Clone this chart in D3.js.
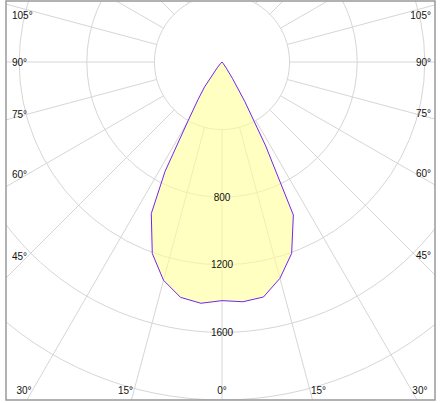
<!DOCTYPE html>
<html>
<head>
<meta charset="utf-8">
<script src="https://cdn.jsdelivr.net/npm/d3@7"></script>
<style>
  body { margin: 0; background: #fff; }
  text { font-family: Arial, "Liberation Sans", sans-serif; font-size: 10px; fill: #111; }
</style>
</head>
<body>
<div id="chart"></div>
<script>
// sampled gamma angles (degrees from nadir)
const gammaAngles = [0, 5, 10, 15, 20, 25, 27.5, 30, 32.5, 35, 40, 45, 50, 60, 70, 80, 90];
// luminous intensity (cd) on each half-plane
const leftValues  = [1412, 1433, 1414, 1337, 1206, 990, 730, 400, 265, 180, 40, 10, 0, 0, 0, 0, 0];
const rightValues = [1412, 1424, 1412, 1325, 1205, 999, 560, 270, 115, 45, 10, 0, 0, 0, 0, 0, 0];
// grid rings and which get a label
const ringValues = [400, 800, 1200, 1600, 2000, 2400];
const ringLabels = [800, 1200, 1600];
// spokes every 15 degrees, labelled up to 105
const spokeAngles = d3.range(0, 181, 15);
const labelAngles = [0, 15, 30, 45, 60, 75, 90, 105];

const width = 444, height = 403;
const frame = { x: 6, y: 1, w: 429, h: 399 };
const cx = 222, cy = 62;
const rad = d => d * Math.PI / 180;

const r = d3.scaleLinear().domain([0, 2000]).range([0, 338]);

const svg = d3.select('#chart').append('svg')
  .attr('width', width)
  .attr('height', height);

svg.append('clipPath').attr('id', 'clip')
  .append('rect')
  .attr('x', frame.x).attr('y', frame.y)
  .attr('width', frame.w).attr('height', frame.h);

const g = svg.append('g').attr('clip-path', 'url(#clip)');
const polar = g.append('g').attr('transform', `translate(${cx},${cy})`);

// rings
polar.selectAll('circle.ring')
  .data(ringValues)
  .enter().append('circle')
  .attr('class', 'ring')
  .attr('r', d => r(d))
  .attr('fill', 'none')
  .attr('stroke', '#d6d6d6')
  .attr('stroke-width', 1);

// spokes, both sides, starting at the first ring
const spokes = [];
spokeAngles.forEach(a => {
  spokes.push(a);
  if (a > 0 && a < 180) spokes.push(-a);
});
polar.selectAll('line.spoke')
  .data(spokes)
  .enter().append('line')
  .attr('class', 'spoke')
  .attr('x1', d => r(ringValues[0]) * Math.sin(rad(d)))
  .attr('y1', d => r(ringValues[0]) * Math.cos(rad(d)))
  .attr('x2', d => r(3000) * Math.sin(rad(d)))
  .attr('y2', d => r(3000) * Math.cos(rad(d)))
  .attr('stroke', '#d6d6d6')
  .attr('stroke-width', 1);

// intensity curve: left half from 90 down to 0, right half from 0 up to 90
const pts = [];
for (let i = gammaAngles.length - 1; i >= 0; i--) pts.push({ a: Math.PI + rad(gammaAngles[i]), v: leftValues[i] });
for (let i = 1; i < gammaAngles.length; i++) pts.push({ a: Math.PI - rad(gammaAngles[i]), v: rightValues[i] });

const line = d3.lineRadial()
  .angle(d => d.a)
  .radius(d => r(d.v))
  .curve(d3.curveLinearClosed);

polar.append('path')
  .attr('d', line(pts))
  .attr('fill', '#ffff99')
  .attr('fill-opacity', 0.6)
  .attr('stroke', '#7424f0')
  .attr('stroke-width', 1);

// ring labels
polar.selectAll('text.ring')
  .data(ringLabels)
  .enter().append('text')
  .attr('class', 'ring')
  .attr('x', 0)
  .attr('y', d => r(d))
  .attr('dy', '0.35em')
  .attr('text-anchor', 'middle')
  .text(d => d);

// angle labels along the frame
const lab = svg.append('g');
const bottomY = 390;
labelAngles.forEach(a => {
  if (a === 0) {
    lab.append('text').attr('x', cx).attr('y', bottomY).attr('dy', '0.35em')
      .attr('text-anchor', 'middle').text('0°');
    return;
  }
  [-1, 1].forEach(s => {
    const t = lab.append('text').attr('dy', '0.35em').text(a + '°');
    const w = t.node().getComputedTextLength();
    const sa = Math.sin(rad(a)), ca = Math.cos(rad(a));
    const xi = s < 0 ? 12 + w : 431 - w;
    const dist = Math.abs(xi - cx) / sa;
    let y = cy + dist * ca;
    if (y <= 383) {
      y = Math.max(y, 15);
      t.attr('x', xi).attr('y', y).attr('text-anchor', s < 0 ? 'end' : 'start');
    } else {
      const d2 = (bottomY - cy) / ca;
      const x = cx + s * d2 * sa + s * 1;
      t.attr('x', x).attr('y', bottomY).attr('text-anchor', s < 0 ? 'end' : 'start');
    }
  });
});

// frame
svg.append('rect')
  .attr('x', frame.x).attr('y', frame.y)
  .attr('width', frame.w).attr('height', frame.h)
  .attr('fill', 'none')
  .attr('stroke', '#999')
  .attr('stroke-width', 1.5);
</script>
</body>
</html>
